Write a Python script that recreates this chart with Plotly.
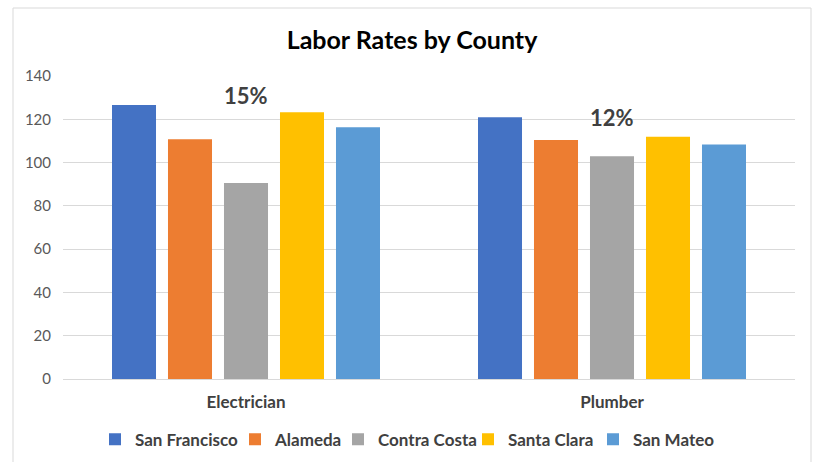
import plotly.graph_objects as go

# Trades on the x axis, one bar per county
trades = ["Electrician", "Plumber"]
counties = ["San Francisco", "Alameda", "Contra Costa", "Santa Clara", "San Mateo"]
rates = {
    "San Francisco": [126.6, 120.9],
    "Alameda": [110.8, 110.4],
    "Contra Costa": [90.6, 102.9],
    "Santa Clara": [123.2, 111.9],
    "San Mateo": [116.3, 108.4],
}
colors = ["#4472C4", "#ED7D31", "#A5A5A5", "#FFC000", "#5B9BD5"]

# Spread labels placed above each trade group
spread_labels = ["15%", "12%"]
spread_y = [130.8, 120.6]

y_ticks = [0, 20, 40, 60, 80, 100, 120, 140]

FONT = "Lato, Open Sans, sans-serif"

L, R, T, B = 63, 19, 76, 83
W, H = 814, 462
pw, ph = W - L - R, H - T - B

# each county gets its own legend box so the entries sit at fixed spots in the row
legend_left_px = [95, 235, 338, 468, 593]
legend_keys = ["legend"] + [f"legend{i}" for i in range(2, len(counties) + 1)]

fig = go.Figure()
for name, color, key in zip(counties, colors, legend_keys):
    fig.add_trace(go.Bar(name=f"<b>{name}</b>", x=trades, y=rates[name],
                         marker_color=color, marker_line_width=0, legend=key))

for trade, txt, yv in zip(trades, spread_labels, spread_y):
    fig.add_annotation(x=trade, y=yv, text=f"<b>{txt}</b>", showarrow=False,
                       font=dict(family=FONT, size=22, color="#404040"))

# light frame around the whole chart
fig.add_shape(type="rect", xref="paper", yref="paper",
              x0=(13 - L) / pw, x1=(811 - L) / pw,
              y0=(H - B - 475) / ph, y1=(H - B - 8) / ph,
              line=dict(color="#d9d9d9", width=1), fillcolor="rgba(0,0,0,0)", layer="below")

legend_style = dict(orientation="h", y=-0.2, yanchor="middle", xanchor="left",
                    font=dict(family=FONT, size=17, color="#404040"),
                    itemwidth=30, bgcolor="rgba(0,0,0,0)")
legends = {key: dict(legend_style, x=(px - L) / pw)
           for key, px in zip(legend_keys, legend_left_px)}

fig.update_layout(
    width=W, height=H,
    margin=dict(l=L, r=R, t=T, b=B, autoexpand=False),
    paper_bgcolor="white", plot_bgcolor="white",
    barmode="group", bargap=0.235, bargroupgap=0.214,
    title=dict(text="<b>Labor Rates by County</b>", x=412 / W, xanchor="center",
               xref="container", y=1 - 40 / H, yanchor="middle",
               font=dict(family=FONT, size=25, color="#000000")),
    font=dict(family=FONT, color="#595959"),
    showlegend=True,
    **legends,
)
fig.update_yaxes(range=[0, 140], tickvals=y_ticks, showgrid=True, gridcolor="#d9d9d9",
                 gridwidth=1, zeroline=False, showline=False, automargin=False,
                 tickfont=dict(family=FONT, size=15, color="#595959"),
                 ticklabelstandoff=11)
fig.update_xaxes(showline=True, linecolor="#d9d9d9", linewidth=1, automargin=False,
                 tickfont=dict(family=FONT, size=17, color="#404040"),
                 tickvals=trades, ticktext=[f"<b>{t}</b>" for t in trades],
                 ticklabelstandoff=8)

fig.write_html("out.html")
